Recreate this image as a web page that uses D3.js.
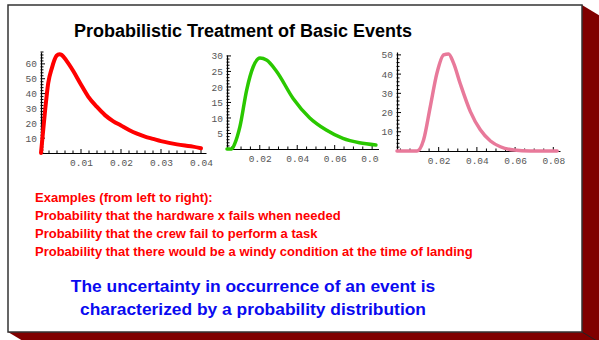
<!DOCTYPE html>
<html><head><meta charset="utf-8">
<script src="https://cdn.jsdelivr.net/npm/d3@7"></script>
<style>body{margin:0;background:#fff}svg{display:block}</style>
</head><body>
<svg id="c" width="599" height="340"></svg>
<script>
// ---- data ----
const title = "Probabilistic Treatment of Basic Events";
const exampleLines = [
  "Examples (from left to right):",
  "Probability that the hardware x fails when needed",
  "Probability that the crew fail to perform a task",
  "Probability that there would be a windy condition at the time of landing"
];
const conclusionLines = [
  "The uncertainty in occurrence of an event is",
  "characterized by a probability distribution"
];
// chart 1 (red)
const c1x = [0, 0.001, 0.0018, 0.0027, 0.0039, 0.0046, 0.0052, 0.0064, 0.0081, 0.0098, 0.0118, 0.014, 0.016, 0.018, 0.020, 0.022, 0.024, 0.026, 0.028, 0.030, 0.032, 0.034, 0.036, 0.038, 0.040];
const c1y = [0, 28, 47, 57, 65.5, 66.5, 66, 62, 55, 47, 38, 31, 25.5, 21.5, 18.5, 15.5, 13, 11, 9.5, 8, 6.8, 5.8, 5, 4.3, 3.2];
const c1xTicks = [0.01, 0.02, 0.03, 0.04];
const c1yTicks = [10, 20, 30, 40, 50, 60];
// chart 2 (green)
const c2x = [0.0025, 0.005, 0.0067, 0.0094, 0.013, 0.0165, 0.0201, 0.0236, 0.029, 0.0378, 0.0467, 0.0555, 0.0644, 0.0732, 0.082];
const c2y = [0, 0, 1.8, 7.2, 19, 26.5, 29.3, 28.7, 25, 16.3, 10, 6.1, 3.4, 2, 1.3];
const c2xTicks = [0.02, 0.04, 0.06, 0.08];
const c2yTicks = [5, 10, 15, 20, 25, 30];
// chart 3 (pink)
const c3x = [-0.0018, 0.0087, 0.0121, 0.0156, 0.0191, 0.0226, 0.0252, 0.0278, 0.0313, 0.0366, 0.0418, 0.0471, 0.0523, 0.0593, 0.068, 0.082];
const c3y = [0, 0, 5.7, 23, 40.5, 50, 50.5, 45.7, 35, 20.5, 11, 5.2, 2.2, 0.5, 0, 0];
const c3xTicks = [0.02, 0.04, 0.06, 0.08];
const c3yTicks = [10, 20, 30, 40, 50];

const svg = d3.select("#c");

// ---- 3D slide frame ----
const bx0 = 8, by0 = 5, bx1 = 582, by1 = 332, sdx = 25, sdy = 15;
svg.append("polygon")
  .attr("points", [[bx1,by0],[bx1+sdx,by0+sdy],[bx1+sdx,by1+sdy],[bx0+sdx,by1+sdy],[bx0,by1]].map(p=>p.join(",")).join(" "))
  .attr("fill", "#800000");
svg.append("line").attr("x1",bx1).attr("y1",by1).attr("x2",bx1+sdx).attr("y2",by1+sdy).attr("stroke","#222").attr("stroke-width",1);
svg.append("rect").attr("x",bx0).attr("y",by0).attr("width",bx1-bx0).attr("height",by1-by0)
  .attr("fill","#fff").attr("stroke","#333").attr("stroke-width",1.5);

// ---- title ----
svg.append("text").attr("x", 243).attr("y", 37).attr("text-anchor","middle")
  .attr("font-family","'Liberation Sans', Arial, sans-serif").attr("font-weight","bold")
  .attr("font-size", 18).attr("fill","#000").text(title);

// ---- charts ----
function chart(cfg) {
  const g = svg.append("g");
  if (cfg.clip) {
    const id = "clip" + cfg.id;
    svg.append("clipPath").attr("id", id).append("rect")
      .attr("x", cfg.clip[0]).attr("y", 0).attr("width", cfg.clip[1]-cfg.clip[0]).attr("height", 340);
    g.attr("clip-path", `url(#${id})`);
  }
  const x = d3.scaleLinear().domain(cfg.xd).range(cfg.xr);
  const y = d3.scaleLinear().domain(cfg.yd).range(cfg.yr);
  const fontFam = "'Liberation Mono', 'DejaVu Sans Mono', monospace";
  // x axis
  const xAxis = d3.axisBottom(x).tickValues(cfg.xTicks).tickSize(0).tickPadding(6)
    .tickFormat(d => d3.format(".2f")(d));
  const gx = g.append("g").attr("transform", `translate(0,${cfg.yr[0]})`).call(xAxis);
  gx.select(".domain").attr("stroke","#000").attr("stroke-width",1.2);
  gx.selectAll("text").attr("font-family", fontFam).attr("font-size", 9.5).attr("fill", "#555");
  // x ticks (major + minor)
  const xMinor = d3.range(0, cfg.xd[1] + 1e-9, cfg.xMinorStep).filter(v => v >= cfg.xd[0]);
  g.append("g").selectAll("line").data(xMinor).join("line")
    .attr("x1", d => x(d)).attr("x2", d => x(d))
    .attr("y1", cfg.yr[0] + 1)
    .attr("y2", d => cfg.yr[0] - (cfg.xTicks.some(t => Math.abs(t - d) < 1e-9) ? 4 : 2.5))
    .attr("stroke", "#000").attr("stroke-width", 1);
  // y axis
  const yAxis = d3.axisLeft(y).tickValues(cfg.yTicks).tickSize(0).tickPadding(4);
  const gy = g.append("g").attr("transform", `translate(${cfg.xr[0]},0)`).call(yAxis);
  gy.select(".domain").attr("stroke","#000").attr("stroke-width",1.2);
  gy.selectAll("text").attr("font-family", fontFam).attr("font-size", 9.5).attr("fill", "#555");
  const yMinor = d3.range(0, cfg.yd[1] + 1e-9, cfg.yMinorStep);
  g.append("g").selectAll("line").data(yMinor).join("line")
    .attr("y1", d => y(d)).attr("y2", d => y(d))
    .attr("x1", cfg.xr[0] - 0.5)
    .attr("x2", d => cfg.xr[0] + (cfg.yTicks.includes(d) ? 4 : 2.5))
    .attr("stroke", "#000").attr("stroke-width", 1);
  // curve
  const pts = cfg.xs.map((v, i) => [v, cfg.ys[i]]);
  g.append("path").datum(pts)
    .attr("d", d3.line().x(d => x(d[0])).y(d => y(d[1])).curve(d3.curveMonotoneX))
    .attr("fill","none").attr("stroke", cfg.color).attr("stroke-width", cfg.lw)
    .attr("stroke-linejoin","round").attr("stroke-linecap","round");
}

chart({id:1, xs:c1x, ys:c1y, xd:[0,0.04125], xr:[41,206], yd:[0,68], yr:[153,52],
  xTicks:c1xTicks, yTicks:c1yTicks, xMinorStep:0.002, yMinorStep:2, color:"#ff0000", lw:4});
chart({id:2, xs:c2x, ys:c2y, xd:[0.0025,0.0842], xr:[227,380], yd:[0,30.3], yr:[149,55],
  xTicks:c2xTicks, yTicks:c2yTicks, xMinorStep:0.005, yMinorStep:1, color:"#2ac800", lw:3.5, clip:[200,379]});
chart({id:3, xs:c3x, ys:c3y, xd:[-0.0018,0.0835], xr:[397,560], yd:[0,51.5], yr:[151,52],
  xTicks:c3xTicks, yTicks:c3yTicks, xMinorStep:0.005, yMinorStep:2, color:"#e8799a", lw:3.5});

// ---- example text ----
svg.append("g").selectAll("text").data(exampleLines).join("text")
  .attr("x", 35).attr("y", (d, i) => 202 + i * 18)
  .attr("font-family","'Liberation Sans', Arial, sans-serif").attr("font-weight","bold")
  .attr("font-size", 13).attr("fill","#ff0000").text(d => d);

// ---- conclusion ----
svg.append("g").selectAll("text").data(conclusionLines).join("text")
  .attr("x", 253).attr("y", (d, i) => 292 + i * 23).attr("text-anchor","middle")
  .attr("font-family","'Liberation Sans', Arial, sans-serif").attr("font-weight","bold")
  .attr("font-size", 17.4).attr("fill","#0a0af0").text(d => d);
</script>
</body></html>
